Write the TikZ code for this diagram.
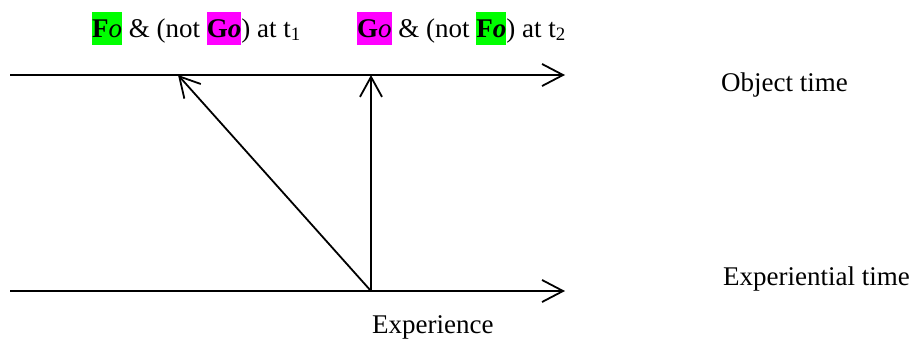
\documentclass[tikz,border=0pt]{standalone}
\usepackage{fontspec}
\setmainfont{Liberation Serif}
\usetikzlibrary{arrows.meta, positioning}

\definecolor{hlgreen}{RGB}{0,255,0}
\definecolor{hlmagenta}{RGB}{255,0,255}
% highlighted predicate symbols
\newcommand{\hlbox}[2]{{\setlength{\fboxsep}{0pt}\colorbox{#1}{\rule[-8pt]{0pt}{33pt}#2}}}

\begin{document}
\begin{tikzpicture}[
    x=1pt, y=-1pt,
    lbl/.style={anchor=base west, inner sep=0pt, font=\fontsize{27}{31}\selectfont},
    timeline/.style={-{Straight Barb[length=21pt, width=22pt]}, line width=1.8pt},
    seeing/.style={-{Straight Barb[length=20pt, width=22pt]}, line width=1.8pt}
]
\useasboundingbox (0,0) rectangle (915,338);

% the two time lines
\coordinate (objstart) at (10,75);
\coordinate (objend) at (565,75);
\coordinate (expstart) at (10,291);
\coordinate (expend) at (565,291);
\coordinate (exp) at (371,291);
\coordinate (tone) at (178,75);
\coordinate (ttwo) at (371,75);

\node[lbl] (lab1) at (92,37) {\hlbox{hlgreen}{\textbf{F}\textit{o}} \& (not \hlbox{hlmagenta}{\textbf{G\textit{o}}}) at t\textsubscript{1}};
\node[lbl] (lab2) at (357,37) {\hlbox{hlmagenta}{\textbf{G}\textit{o}} \& (not \hlbox{hlgreen}{\textbf{F\textit{o}}}) at t\textsubscript{2}};
\node[lbl] (objtime) at (721,91) {Object time};
\node[lbl] (exptime) at (723,285) {Experiential time};
\node[lbl] (experience) at (372,333) {Experience};

\draw[timeline] (objstart) -- (objend);
\draw[timeline] (expstart) -- (expend);
\draw[seeing] (exp) -- (tone);
\draw[seeing] (exp) -- (ttwo);
\end{tikzpicture}
\end{document}
